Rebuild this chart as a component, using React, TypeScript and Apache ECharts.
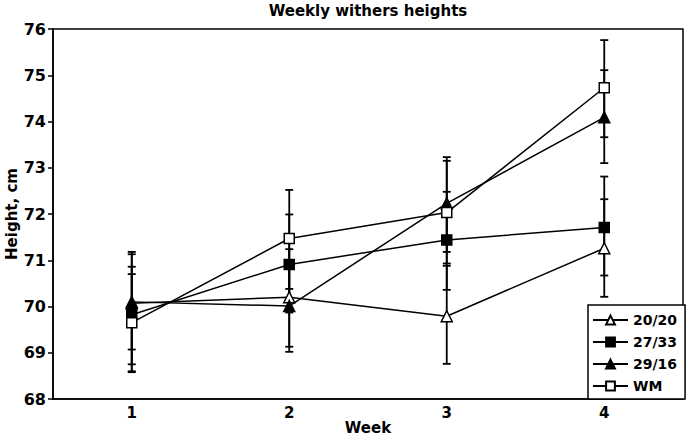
import React, { useEffect, useRef } from "react";
import * as echarts from "echarts";

const weeks = ["1", "2", "3", "4"];
const seriesNames = ["20/20", "27/33", "29/16", "WM"];

const h2020 = [70.07, 70.2, 69.79, 71.26];
const h2733 = [69.82, 70.91, 71.44, 71.71];
const h2916 = [70.1, 70.01, 72.23, 74.09];
const hWM = [69.65, 71.47, 72.03, 74.73];

const lo2020 = [68.6, 69.13, 68.76, 70.21];
const hi2020 = [71.18, 71.24, 70.88, 72.32];
const lo2733 = [68.75, 69.87, 70.36, 70.67];
const hi2733 = [70.86, 71.99, 72.48, 72.81];
const lo2916 = [69.07, 69.02, 71.18, 73.1];
const hi2916 = [71.13, 71.0, 73.23, 75.11];
const loWM = [68.58, 70.38, 70.93, 73.66];
const hiWM = [70.7, 72.52, 73.15, 75.76];

const yTicks = [68, 69, 70, 71, 72, 73, 74, 75, 76];

const FONT = "DejaVu Sans";

export default function App() {
  const ref = useRef<HTMLDivElement>(null);
  useEffect(() => {
    if (!ref.current) return;
    const chart = echarts.init(ref.current, null, { renderer: "svg" });
    const values = [h2020, h2733, h2916, hWM];
    const lows = [lo2020, lo2733, lo2916, loWM];
    const highs = [hi2020, hi2733, hi2916, hiWM];
    const symbols = ["triangle", "rect", "triangle", "rect"];
    const fills = ["#fff", "#000", "#000", "#fff"];
    const sizes = [11, 10, 11, 10];

    const errData: number[][] = [];
    lows.forEach((lo, s) => {
      lo.forEach((l, i) => errData.push([i, l, highs[s][i]]));
    });

    const lineSeries = seriesNames.map((name, s) => ({
      name,
      type: "line",
      data: values[s],
      symbol: symbols[s],
      symbolSize: sizes[s],
      z: 3,
      lineStyle: { color: "#000", width: 1.5 },
      itemStyle: { color: fills[s], borderColor: "#000", borderWidth: 1.5 },
    }));

    const textFont = `bold 15px "${FONT}"`;

    chart.setOption({
      animation: false,
      backgroundColor: "#fff",
      graphic: [
        {
          type: "text",
          x: 368,
          y: 3,
          style: {
            text: "Weekly withers heights",
            textAlign: "center",
            textVerticalAlign: "top",
            font: textFont,
            fill: "#000",
          },
        },
        {
          type: "text",
          x: 12,
          y: 214,
          rotation: Math.PI / 2,
          style: {
            text: "Height, cm",
            textAlign: "center",
            textVerticalAlign: "middle",
            font: textFont,
            fill: "#000",
          },
        },
        {
          type: "text",
          x: 368,
          y: 428,
          style: {
            text: "Week",
            textAlign: "center",
            textVerticalAlign: "middle",
            font: textFont,
            fill: "#000",
          },
        },
      ],
      grid: {
        left: 53,
        right: 3,
        top: 29,
        bottom: 40,
        show: true,
        borderColor: "#000",
        borderWidth: 1.5,
        containLabel: false,
        outerBoundsMode: "none",
      },
      legend: {
        orient: "vertical",
        left: 588,
        top: 305,
        data: seriesNames,
        backgroundColor: "#fff",
        borderColor: "#000",
        borderWidth: 1.5,
        borderRadius: 0,
        padding: [8, 8, 6, 4],
        itemWidth: 35,
        itemHeight: 11,
        itemGap: 8,
        textStyle: { fontFamily: FONT, fontWeight: "bold", fontSize: 14, color: "#000" },
      },
      xAxis: {
        type: "category",
        data: weeks,
        boundaryGap: true,
        axisLine: { lineStyle: { color: "#000", width: 1.5 } },
        axisTick: { show: false },
        axisLabel: { fontFamily: FONT, fontWeight: "bold", fontSize: 15, color: "#000", margin: 6 },
        splitLine: { show: false },
      },
      yAxis: {
        type: "value",
        min: yTicks[0],
        max: yTicks[yTicks.length - 1],
        interval: 1,
        axisLine: { show: true, lineStyle: { color: "#000", width: 1.5 } },
        axisTick: { show: true, length: 5, lineStyle: { color: "#000", width: 1.5 } },
        axisLabel: { fontFamily: FONT, fontWeight: "bold", fontSize: 16, color: "#000", margin: 7 },
        splitLine: { show: false },
      },
      series: [
        {
          type: "custom",
          name: "err",
          z: 1,
          data: errData,
          encode: { x: 0, y: [1, 2] },
          renderItem: (params: any, api: any) => {
            const x = api.value(0);
            const lo = api.coord([x, api.value(1)]);
            const hi = api.coord([x, api.value(2)]);
            const w = 4;
            const style = { stroke: "#000", lineWidth: 1.8 };
            return {
              type: "group",
              children: [
                { type: "line", shape: { x1: lo[0], y1: lo[1], x2: hi[0], y2: hi[1] }, style },
                { type: "line", shape: { x1: lo[0] - w, y1: lo[1], x2: lo[0] + w, y2: lo[1] }, style },
                { type: "line", shape: { x1: hi[0] - w, y1: hi[1], x2: hi[0] + w, y2: hi[1] }, style },
              ],
            };
          },
        },
        ...lineSeries,
      ],
    });
    return () => chart.dispose();
  }, []);
  return (
    <div
      ref={ref}
      style={{ position: "absolute", left: 0, top: 0, width: 686, height: 439 }}
    />
  );
}
